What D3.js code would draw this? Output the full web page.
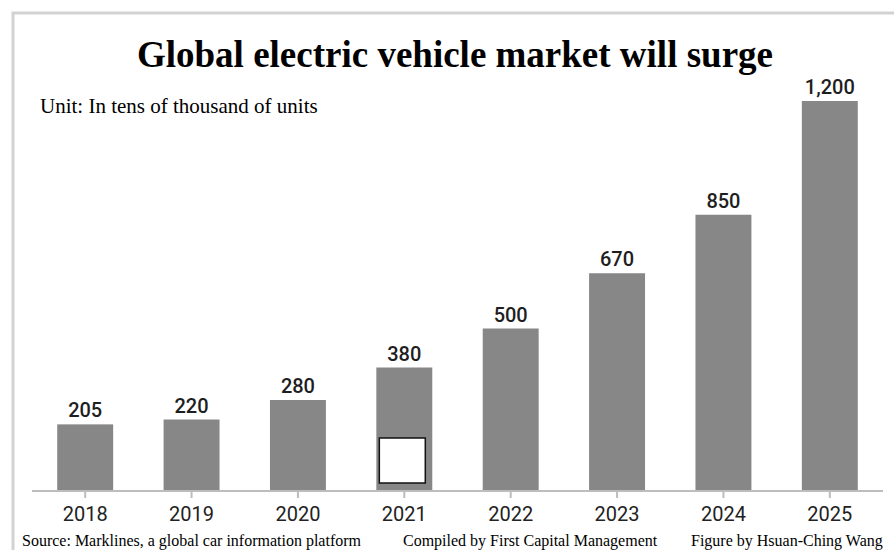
<!DOCTYPE html>
<html>
<head>
<meta charset="utf-8">
<script src="https://cdn.jsdelivr.net/npm/d3@7"></script>
<style>
  body { margin: 0; background: #fff; }
  svg { display: block; }
</style>
</head>
<body>
<div id="chart"></div>
<script>
var years = ["2018", "2019", "2020", "2021", "2022", "2023", "2024", "2025"];
var units = [205, 220, 280, 380, 500, 670, 850, 1200];
var valueLabels = ["205", "220", "280", "380", "500", "670", "850", "1,200"];

var width = 894, height = 550;

var svg = d3.select("#chart").append("svg")
    .attr("width", width)
    .attr("height", height);

// light frame on top and left
svg.append("path")
    .attr("d", "M13,550 L13,13 L894,13")
    .attr("fill", "none")
    .attr("stroke", "#d2d2d2")
    .attr("stroke-width", 3);

var x = d3.scaleBand()
    .domain(years)
    .range([32, 883])
    .paddingInner(0.474)
    .paddingOuter(0.237);

var y = d3.scaleLinear()
    .domain([0, 1200])
    .range([491, 101]);

svg.append("text")
    .attr("x", 455)
    .attr("y", 67)
    .attr("text-anchor", "middle")
    .style("font-family", "'Liberation Serif', 'Times New Roman', serif")
    .style("font-weight", "bold")
    .style("font-size", "37px")
    .text("Global electric vehicle market will surge");

svg.append("text")
    .attr("x", 40)
    .attr("y", 113)
    .style("font-family", "'Liberation Serif', 'Times New Roman', serif")
    .style("font-size", "21px")
    .text("Unit: In tens of thousand of units");

// bars
svg.selectAll(".bar")
    .data(units)
    .enter().append("rect")
    .attr("class", "bar")
    .attr("x", function(d, i) { return x(years[i]); })
    .attr("y", function(d) { return y(d); })
    .attr("width", x.bandwidth())
    .attr("height", function(d) { return y(0) - y(d); })
    .attr("fill", "#878787");

svg.selectAll(".vlabel")
    .data(units)
    .enter().append("text")
    .attr("class", "vlabel")
    .attr("x", function(d, i) { return x(years[i]) + x.bandwidth() / 2; })
    .attr("y", function(d) { return y(d) - 7; })
    .attr("text-anchor", "middle")
    .style("font-family", "Roboto, 'Noto Sans', sans-serif")
    .style("font-weight", "500")
    .style("font-size", "20px")
    .style("fill", "#1e1e1e")
    .text(function(d, i) { return valueLabels[i]; });

// white box sitting inside the 2021 bar
svg.append("rect")
    .attr("x", x("2021") + 3)
    .attr("y", y(0) - 53)
    .attr("width", x.bandwidth() - 10)
    .attr("height", 45)
    .attr("fill", "#fff")
    .attr("stroke", "#111")
    .attr("stroke-width", 1.5);

// x axis
var axis = svg.append("g")
    .attr("transform", "translate(0," + y(0) + ")")
    .call(d3.axisBottom(x).tickSize(7).tickPadding(9));

axis.select(".domain")
    .attr("stroke", "#bdbdbd")
    .attr("stroke-width", 2)
    .attr("d", "M32,0H883");
axis.selectAll(".tick line")
    .attr("stroke", "#bdbdbd")
    .attr("stroke-width", 2);
axis.selectAll(".tick text")
    .style("font-family", "Roboto, 'Noto Sans', sans-serif")
    .style("font-size", "20px")
    .style("fill", "#222");

// footer credits
var footer = [
    {text: "Source: Marklines, a global car information platform", x: 22},
    {text: "Compiled by First Capital Management", x: 403},
    {text: "Figure by Hsuan-Ching Wang", x: 691}
];
svg.selectAll(".foot")
    .data(footer)
    .enter().append("text")
    .attr("class", "foot")
    .attr("x", function(d) { return d.x; })
    .attr("y", 546)
    .style("font-family", "'Liberation Serif', 'Times New Roman', serif")
    .style("font-size", "16px")
    .text(function(d) { return d.text; });
</script>
</body>
</html>
